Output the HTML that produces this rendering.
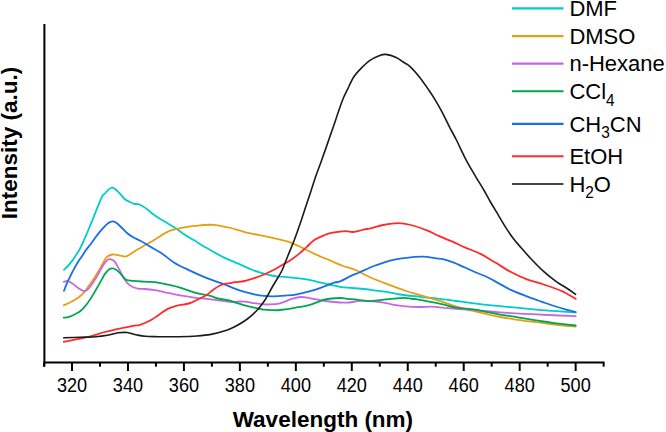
<!DOCTYPE html>
<html><head><meta charset="utf-8"><style>
html,body{margin:0;padding:0;background:#fff;}
svg{display:block;}
text{font-family:"Liberation Sans",sans-serif;}
</style></head><body>
<svg width="666" height="432" viewBox="0 0 666 432">
<rect width="666" height="432" fill="#fff"/>
<g fill="none" stroke-width="1.8" stroke-linejoin="round" stroke-linecap="round">
<path d="M64.0,269.8 C64.7,269.1 66.9,267.2 68.3,265.6 C69.7,264.0 71.3,262.0 72.5,260.4 C73.7,258.8 74.5,257.4 75.6,255.7 C76.7,254.0 78.0,252.3 79.3,250.0 C80.5,247.7 81.4,245.8 83.1,242.1 C84.8,238.4 87.5,232.1 89.2,228.0 C90.9,223.9 91.9,221.3 93.4,217.6 C94.9,213.9 96.7,209.2 98.2,205.6 C99.7,202.0 101.2,198.1 102.4,196.0 C103.6,193.9 104.3,194.2 105.4,193.0 C106.5,191.8 107.8,190.0 109.0,189.1 C110.2,188.2 111.4,187.4 112.6,187.6 C113.8,187.8 114.9,188.9 116.2,190.0 C117.5,191.1 119.0,192.7 120.4,194.2 C121.8,195.7 123.1,197.7 124.6,199.0 C126.1,200.3 127.8,201.0 129.4,201.8 C131.0,202.6 132.8,203.4 134.2,203.8 C135.6,204.2 136.5,203.8 137.9,204.2 C139.3,204.6 141.1,205.3 142.7,206.2 C144.3,207.1 145.7,208.1 147.5,209.5 C149.3,210.9 151.5,213.0 153.5,214.5 C155.5,216.0 157.1,217.0 159.5,218.5 C161.9,220.0 165.1,221.7 168.0,223.5 C170.9,225.3 174.0,227.3 177.0,229.3 C180.0,231.3 183.0,233.6 186.0,235.5 C189.0,237.4 191.6,238.8 195.0,240.8 C198.4,242.9 201.3,245.0 206.3,247.8 C211.3,250.7 219.0,255.1 224.8,257.9 C230.6,260.7 236.4,262.8 241.0,264.8 C245.6,266.8 248.5,268.4 252.6,270.0 C256.7,271.6 261.4,273.0 265.5,274.1 C269.6,275.2 273.6,276.0 276.9,276.5 C280.1,277.0 280.1,276.4 285.0,276.9 C289.9,277.4 298.9,278.0 306.3,279.3 C313.7,280.6 323.8,283.2 329.4,284.5 C335.0,285.8 336.2,286.2 340.0,286.8 C343.8,287.4 348.0,287.6 352.0,288.0 C356.0,288.4 360.0,288.6 364.0,289.0 C368.0,289.4 372.0,290.2 376.0,290.7 C380.0,291.2 384.0,291.6 388.0,292.2 C392.0,292.8 394.7,293.7 400.0,294.5 C405.3,295.3 413.7,296.1 420.0,296.8 C426.3,297.5 432.0,297.9 438.0,298.6 C444.0,299.3 450.0,300.2 456.0,301.0 C462.0,301.8 466.8,302.5 474.1,303.4 C481.4,304.3 491.7,305.4 500.0,306.2 C508.3,307.0 516.0,307.7 524.0,308.4 C532.0,309.1 539.4,309.9 548.0,310.6 C556.6,311.3 571.1,312.1 575.7,312.4" stroke="#00CCCC"/>
<path d="M63.8,305.2 C64.9,304.7 68.1,303.4 70.5,302.2 C72.9,300.9 75.8,299.3 78.1,297.7 C80.4,296.1 82.1,294.7 84.1,292.4 C86.1,290.1 88.1,287.0 90.1,284.1 C92.1,281.2 94.1,278.4 96.1,275.1 C98.1,271.8 100.5,267.5 102.2,264.5 C104.0,261.5 104.9,258.9 106.6,257.2 C108.3,255.5 110.5,254.8 112.4,254.5 C114.3,254.2 116.1,254.8 118.2,255.2 C120.3,255.5 123.4,256.6 125.1,256.6 C126.8,256.6 127.0,256.1 128.6,255.2 C130.2,254.3 132.3,252.7 134.4,251.4 C136.5,250.1 139.2,248.6 141.4,247.3 C143.6,246.0 146.1,244.6 147.5,243.8 C148.9,243.0 148.1,243.5 150.0,242.4 C151.9,241.3 156.0,238.8 159.0,237.0 C162.0,235.2 165.0,232.9 168.0,231.6 C171.0,230.2 174.0,229.7 177.0,228.9 C180.0,228.2 183.0,227.6 186.0,227.1 C189.0,226.6 192.0,226.2 195.0,225.9 C198.0,225.6 201.0,225.2 204.0,225.0 C207.0,224.8 210.0,224.6 213.0,224.8 C216.0,225.0 219.0,225.7 222.0,226.2 C225.0,226.7 228.1,227.2 231.1,228.0 C234.1,228.8 237.1,229.8 240.1,230.7 C243.1,231.5 246.1,232.4 249.1,233.1 C252.1,233.8 254.6,234.2 258.1,234.9 C261.6,235.6 265.1,236.3 270.0,237.4 C274.9,238.5 282.5,240.0 287.8,241.7 C293.1,243.4 297.1,245.4 301.7,247.5 C306.3,249.6 311.0,252.3 315.6,254.4 C320.2,256.5 324.8,258.3 329.4,260.2 C334.0,262.1 338.9,264.4 343.3,266.0 C347.7,267.6 351.2,268.1 355.6,270.0 C360.1,271.9 364.6,274.8 370.0,277.2 C375.4,279.6 382.0,282.1 388.0,284.4 C394.0,286.7 400.7,289.2 406.0,291.0 C411.3,292.8 414.7,293.6 420.0,295.2 C425.3,296.8 432.0,298.5 438.0,300.4 C444.0,302.3 450.0,304.6 456.0,306.4 C462.0,308.2 466.8,309.4 474.1,311.2 C481.4,313.0 492.7,315.6 500.0,317.0 C507.3,318.4 512.0,318.9 518.0,319.8 C524.0,320.7 530.0,321.4 536.0,322.2 C542.0,323.0 547.5,323.8 554.1,324.6 C560.7,325.3 572.1,326.3 575.7,326.7" stroke="#E3A015"/>
<path d="M63.8,281.8 C64.4,281.6 66.1,280.6 67.5,280.8 C68.9,281.1 70.2,282.1 72.0,283.3 C73.8,284.5 76.2,286.6 78.1,287.9 C80.0,289.2 81.8,290.5 83.3,290.9 C84.8,291.3 85.7,291.1 87.1,290.1 C88.5,289.1 89.8,287.3 91.6,284.8 C93.4,282.3 95.7,278.5 97.7,275.1 C99.7,271.7 102.0,267.1 103.7,264.5 C105.4,261.9 106.5,260.7 107.8,259.8 C109.0,258.9 110.0,259.0 111.2,259.3 C112.4,259.6 113.5,260.2 114.7,261.6 C115.9,263.0 116.9,264.9 118.2,267.4 C119.5,269.8 121.3,273.7 122.8,276.3 C124.3,278.9 125.7,281.4 127.4,283.2 C129.1,285.0 131.3,286.4 133.2,287.3 C135.1,288.2 137.1,288.5 139.0,288.8 C140.9,289.1 142.1,288.8 144.8,289.0 C147.5,289.2 151.2,289.6 155.0,290.2 C158.8,290.8 163.4,292.0 167.8,292.9 C172.2,293.8 177.1,294.9 181.7,295.7 C186.3,296.5 191.0,297.2 195.6,297.8 C200.2,298.4 203.7,298.5 209.4,299.2 C215.1,299.9 225.8,301.5 230.0,301.9 C234.2,302.3 232.3,301.7 234.7,301.6 C237.1,301.6 241.2,301.3 244.5,301.6 C247.8,301.9 251.0,302.7 254.2,303.2 C257.4,303.7 260.7,304.2 263.9,304.4 C267.1,304.6 270.9,304.4 273.6,304.2 C276.3,304.0 276.9,304.2 280.0,303.3 C283.1,302.4 288.5,299.9 292.0,298.8 C295.5,297.8 298.0,297.1 301.0,297.0 C304.0,296.9 306.0,297.6 310.0,298.3 C314.0,299.0 320.0,300.3 325.0,301.0 C330.0,301.7 336.0,302.2 340.0,302.5 C344.0,302.8 345.7,302.8 349.0,302.5 C352.3,302.2 356.5,301.1 360.0,300.9 C363.5,300.7 366.3,300.9 370.0,301.2 C373.7,301.4 378.0,301.8 382.0,302.4 C386.0,303.0 390.0,304.1 394.0,304.8 C398.0,305.5 401.8,305.9 406.1,306.3 C410.4,306.7 415.7,306.9 420.0,307.0 C424.3,307.1 428.0,306.6 432.0,306.7 C436.0,306.8 440.0,307.5 444.0,307.9 C448.0,308.2 451.0,308.4 456.0,308.8 C461.0,309.2 466.8,309.4 474.1,310.0 C481.4,310.6 491.7,311.8 500.0,312.4 C508.3,313.0 516.0,313.4 524.0,313.8 C532.0,314.2 539.4,314.6 548.0,315.0 C556.6,315.4 571.1,316.0 575.7,316.2" stroke="#C868E0"/>
<path d="M63.8,317.7 C64.7,317.6 67.1,317.5 69.0,316.9 C70.9,316.3 73.1,315.3 75.1,314.2 C77.1,313.1 79.1,312.2 81.1,310.5 C83.1,308.8 85.1,306.3 87.1,303.7 C89.1,301.1 91.1,297.9 93.1,294.6 C95.1,291.3 97.2,287.6 99.2,284.1 C101.2,280.6 103.5,276.1 105.2,273.6 C107.0,271.1 108.3,269.9 109.7,269.0 C111.1,268.1 112.2,268.1 113.6,268.5 C115.0,268.9 116.5,269.8 118.2,271.4 C119.9,272.9 122.7,276.4 124.0,277.8 C125.3,279.2 124.8,279.3 126.3,279.8 C127.8,280.3 130.7,280.6 133.2,280.9 C135.7,281.2 139.0,281.4 141.3,281.5 C143.6,281.6 144.8,281.7 147.1,281.8 C149.4,281.9 151.6,281.6 155.0,282.1 C158.4,282.6 163.4,283.6 167.8,284.6 C172.2,285.6 177.1,286.7 181.7,288.1 C186.3,289.5 191.0,291.6 195.6,292.9 C200.2,294.2 205.7,294.8 209.4,295.7 C213.1,296.6 214.4,297.7 217.8,298.5 C221.2,299.3 227.2,300.0 230.0,300.6 C232.8,301.2 232.3,301.6 234.7,302.4 C237.1,303.2 241.2,304.4 244.5,305.3 C247.8,306.2 251.0,306.9 254.2,307.6 C257.4,308.3 260.7,309.3 263.9,309.7 C267.1,310.1 270.9,310.1 273.6,310.2 C276.3,310.2 276.4,310.4 280.0,310.0 C283.6,309.6 290.0,308.7 295.0,307.8 C300.0,306.9 305.0,306.2 310.0,304.8 C315.0,303.4 320.0,300.6 325.0,299.5 C330.0,298.4 336.3,298.1 340.0,298.0 C343.7,297.9 344.2,298.5 347.2,298.8 C350.2,299.1 354.2,299.4 358.0,299.8 C361.8,300.2 366.0,301.2 370.0,301.2 C374.0,301.2 378.0,300.2 382.0,299.8 C386.0,299.4 390.4,298.9 394.0,298.6 C397.6,298.3 400.7,297.9 403.7,297.9 C406.7,297.9 409.3,298.5 412.0,298.8 C414.7,299.1 416.7,299.2 420.0,299.8 C423.3,300.4 428.0,301.4 432.0,302.2 C436.0,303.0 440.0,303.7 444.0,304.6 C448.0,305.5 451.0,306.8 456.0,307.6 C461.0,308.4 469.1,308.7 474.1,309.4 C479.1,310.1 481.8,310.9 486.1,311.8 C490.4,312.7 494.7,313.7 500.0,314.6 C505.3,315.5 512.0,316.4 518.0,317.4 C524.0,318.4 530.0,319.4 536.0,320.4 C542.0,321.3 547.5,322.2 554.1,323.1 C560.7,323.9 572.1,325.1 575.7,325.5" stroke="#00A650"/>
<path d="M64.0,290.8 C64.5,289.4 66.2,284.8 67.3,282.3 C68.4,279.8 69.4,278.1 70.4,276.0 C71.4,273.9 72.3,272.1 73.5,269.8 C74.7,267.6 76.3,264.8 77.7,262.5 C79.1,260.2 80.5,258.4 81.9,256.3 C83.3,254.2 84.5,252.1 86.0,250.0 C87.5,247.9 89.2,246.2 91.0,243.8 C92.8,241.4 95.0,238.0 97.0,235.4 C99.0,232.8 101.2,230.2 103.0,228.2 C104.8,226.2 106.2,224.5 107.8,223.4 C109.4,222.3 111.2,221.5 112.6,221.4 C114.0,221.3 114.8,221.9 116.2,222.8 C117.6,223.7 119.2,225.3 121.0,227.0 C122.8,228.7 125.0,231.3 127.0,233.0 C129.0,234.7 130.8,235.9 133.0,237.2 C135.2,238.5 137.9,239.5 140.3,240.8 C142.7,242.1 145.1,243.6 147.5,245.0 C149.9,246.4 152.3,247.8 154.7,249.2 C157.1,250.6 158.7,251.2 161.9,253.4 C165.1,255.6 169.6,259.8 173.9,262.5 C178.2,265.2 182.4,267.1 187.8,269.6 C193.2,272.2 200.1,275.3 206.3,277.8 C212.5,280.3 220.3,282.8 225.0,284.6 C229.7,286.4 231.4,287.4 234.7,288.6 C237.9,289.8 241.2,290.9 244.5,291.9 C247.8,292.8 251.0,293.6 254.2,294.3 C257.4,295.0 260.7,295.6 263.9,295.9 C267.1,296.2 270.1,296.4 273.6,296.3 C277.1,296.2 281.1,295.9 285.0,295.6 C288.9,295.3 291.9,295.3 297.0,294.3 C302.1,293.3 309.4,291.6 315.6,289.7 C321.8,287.8 330.0,284.1 334.1,282.7 C338.2,281.3 337.0,282.6 340.0,281.4 C343.0,280.2 348.7,276.9 352.0,275.4 C355.3,273.9 356.4,273.8 360.0,272.2 C363.6,270.6 368.9,267.9 373.9,266.0 C378.9,264.1 384.7,262.0 390.1,260.6 C395.5,259.2 400.9,258.5 406.3,257.9 C411.7,257.2 417.5,256.6 422.5,256.7 C427.5,256.8 433.2,257.9 436.4,258.3 C439.6,258.7 439.4,258.4 441.7,258.9 C444.0,259.4 447.6,260.4 450.3,261.3 C453.0,262.2 453.9,262.6 457.9,264.3 C461.9,266.0 469.1,269.5 474.1,271.7 C479.1,273.9 483.7,275.4 488.0,277.5 C492.3,279.6 496.0,281.9 500.0,284.1 C504.0,286.2 507.0,288.1 512.0,290.4 C517.0,292.6 525.0,295.7 530.0,297.6 C535.0,299.5 538.0,300.4 542.0,301.8 C546.0,303.2 550.1,304.7 554.1,306.0 C558.1,307.3 562.5,308.6 566.1,309.6 C569.7,310.6 574.1,311.6 575.7,312.0" stroke="#1A6FE6"/>
<path d="M63.7,341.8 C65.8,341.4 72.0,340.1 76.0,339.3 C80.0,338.5 83.5,338.1 88.0,337.0 C92.5,335.9 98.0,333.9 103.0,332.5 C108.0,331.1 113.1,329.9 118.1,328.8 C123.1,327.7 129.4,326.5 133.1,325.8 C136.8,325.1 137.0,325.9 140.0,324.9 C143.0,323.9 147.9,321.8 151.1,320.0 C154.3,318.2 156.6,316.2 159.4,314.4 C162.2,312.5 165.0,310.3 167.8,308.9 C170.6,307.5 173.3,306.6 176.1,305.8 C178.9,305.1 181.8,304.9 184.4,304.4 C187.0,303.9 188.9,303.6 191.4,302.6 C193.9,301.6 197.1,299.8 199.7,298.5 C202.2,297.2 204.4,296.5 206.7,295.0 C209.0,293.5 211.3,291.0 213.6,289.4 C215.9,287.8 218.5,286.3 220.6,285.3 C222.7,284.3 224.5,283.9 226.1,283.5 C227.7,283.1 228.6,283.4 230.0,283.2 C231.4,283.0 232.3,282.6 234.7,282.2 C237.1,281.8 241.2,281.7 244.5,281.0 C247.8,280.3 251.0,279.2 254.2,278.1 C257.4,277.0 260.7,275.9 263.9,274.5 C267.1,273.1 270.2,271.8 273.5,270.0 C276.8,268.2 281.0,265.6 283.9,264.0 C286.8,262.4 288.2,261.9 290.8,260.1 C293.4,258.3 296.9,255.6 299.6,253.4 C302.3,251.2 304.4,249.0 306.8,246.8 C309.2,244.6 311.6,241.9 314.0,240.2 C316.4,238.5 318.8,237.7 321.2,236.6 C323.6,235.5 325.6,234.4 328.4,233.6 C331.2,232.8 335.0,232.2 338.0,231.8 C341.0,231.4 344.1,231.2 346.5,231.2 C348.9,231.2 350.3,232.1 352.5,232.0 C354.7,231.9 357.7,231.0 359.7,230.6 C361.7,230.2 362.5,229.8 364.5,229.4 C366.5,229.0 368.5,228.9 371.6,228.2 C374.7,227.5 378.7,225.8 383.1,225.0 C387.5,224.2 393.6,223.1 398.2,223.1 C402.8,223.1 406.1,223.8 410.9,225.0 C415.7,226.2 422.4,228.5 427.0,230.3 C431.6,232.1 434.4,234.0 438.7,235.9 C443.0,237.8 448.2,239.8 452.6,241.7 C457.0,243.6 460.2,245.4 464.8,247.4 C469.4,249.4 474.9,251.1 480.0,253.6 C485.1,256.1 490.2,259.5 495.3,262.5 C500.4,265.5 505.4,269.1 510.5,271.8 C515.6,274.5 520.3,276.8 525.8,278.9 C531.3,281.0 537.7,282.5 543.6,284.5 C549.5,286.5 556.0,288.5 561.4,290.9 C566.8,293.3 573.3,297.6 575.7,298.9" stroke="#FF2A2A"/>
<path d="M63.7,337.8 C66.5,337.7 75.2,337.5 80.5,337.3 C85.8,337.1 91.0,337.1 95.5,336.7 C100.0,336.3 103.7,335.8 107.5,335.2 C111.3,334.6 114.8,333.2 118.1,332.8 C121.4,332.4 124.1,332.2 127.1,332.5 C130.1,332.8 133.1,334.2 136.1,334.8 C139.1,335.4 141.4,336.0 145.1,336.3 C148.8,336.6 152.4,336.6 158.0,336.7 C163.6,336.8 172.0,336.8 178.5,336.7 C185.0,336.6 191.6,336.4 197.0,336.0 C202.4,335.6 206.2,335.3 210.9,334.4 C215.6,333.5 221.0,332.1 225.0,330.8 C229.0,329.5 231.4,328.3 234.7,326.7 C237.9,325.1 241.5,323.0 244.5,321.0 C247.5,319.0 250.2,316.8 252.6,314.6 C255.0,312.5 256.9,310.7 259.0,308.1 C261.1,305.5 263.3,302.6 265.5,299.2 C267.7,295.8 270.0,291.0 272.0,287.5 C274.0,284.0 276.0,280.9 277.7,278.0 C279.4,275.1 280.4,273.8 282.2,270.0 C283.9,266.2 286.2,260.0 288.2,255.0 C290.2,250.0 292.1,245.8 294.3,240.0 C296.5,234.2 299.4,225.8 301.4,220.0 C303.4,214.2 304.6,210.0 306.3,205.0 C308.0,200.0 309.7,195.0 311.3,190.0 C312.9,185.0 314.6,179.7 316.2,175.0 C317.8,170.3 318.4,169.2 321.1,161.7 C323.8,154.2 328.7,140.1 332.2,130.0 C335.7,119.9 339.5,108.2 342.1,101.3 C344.7,94.4 346.0,92.6 347.9,88.6 C349.8,84.5 351.6,80.3 353.7,77.0 C355.8,73.7 357.9,71.7 360.6,68.9 C363.3,66.1 366.8,62.6 369.9,60.4 C373.0,58.2 376.5,56.7 379.1,55.7 C381.8,54.7 383.0,54.1 385.8,54.4 C388.6,54.7 393.3,56.1 396.2,57.4 C399.1,58.7 400.8,60.5 403.1,62.0 C405.4,63.5 407.4,64.1 410.1,66.6 C412.8,69.1 416.3,73.1 419.4,77.0 C422.5,80.9 425.9,85.9 428.6,89.8 C431.3,93.7 433.3,96.8 435.6,100.6 C437.9,104.4 440.2,108.5 442.5,112.9 C444.8,117.3 447.1,122.3 449.4,126.8 C451.7,131.3 453.6,134.4 456.4,140.0 C459.2,145.6 463.0,154.0 466.2,160.1 C469.4,166.2 472.6,171.3 475.5,176.3 C478.4,181.3 481.4,185.8 483.8,190.0 C486.2,194.2 487.9,197.5 490.2,201.5 C492.5,205.5 495.3,210.0 497.8,214.2 C500.3,218.4 502.8,222.9 505.4,226.9 C507.9,230.9 510.6,234.9 513.1,238.3 C515.7,241.7 517.7,243.9 520.7,247.3 C523.7,250.7 527.1,254.7 530.9,258.7 C534.7,262.7 539.4,267.6 543.6,271.4 C547.8,275.2 552.5,278.8 556.3,281.6 C560.1,284.4 563.3,285.9 566.5,288.0 C569.7,290.1 574.1,293.2 575.6,294.3" stroke="#1a1a1a" stroke-width="1.6"/>
</g>
<g stroke="#000" stroke-width="2" fill="none">
<line x1="44.4" y1="24" x2="44.4" y2="366.5"/>
<line x1="43.4" y1="362.6" x2="604.5" y2="362.6"/>
<line x1="44.02" y1="362.6" x2="44.02" y2="366.7"/>
<line x1="72.00" y1="362.6" x2="72.00" y2="371.0"/>
<line x1="99.98" y1="362.6" x2="99.98" y2="366.7"/>
<line x1="127.96" y1="362.6" x2="127.96" y2="371.0"/>
<line x1="155.94" y1="362.6" x2="155.94" y2="366.7"/>
<line x1="183.92" y1="362.6" x2="183.92" y2="371.0"/>
<line x1="211.90" y1="362.6" x2="211.90" y2="366.7"/>
<line x1="239.88" y1="362.6" x2="239.88" y2="371.0"/>
<line x1="267.86" y1="362.6" x2="267.86" y2="366.7"/>
<line x1="295.84" y1="362.6" x2="295.84" y2="371.0"/>
<line x1="323.82" y1="362.6" x2="323.82" y2="366.7"/>
<line x1="351.80" y1="362.6" x2="351.80" y2="371.0"/>
<line x1="379.78" y1="362.6" x2="379.78" y2="366.7"/>
<line x1="407.76" y1="362.6" x2="407.76" y2="371.0"/>
<line x1="435.74" y1="362.6" x2="435.74" y2="366.7"/>
<line x1="463.72" y1="362.6" x2="463.72" y2="371.0"/>
<line x1="491.70" y1="362.6" x2="491.70" y2="366.7"/>
<line x1="519.68" y1="362.6" x2="519.68" y2="371.0"/>
<line x1="547.66" y1="362.6" x2="547.66" y2="366.7"/>
<line x1="575.64" y1="362.6" x2="575.64" y2="371.0"/>
<line x1="603.62" y1="362.6" x2="603.62" y2="366.7"/>
</g>
<g font-size="19.5" text-anchor="middle" fill="#000">
<text transform="translate(72.00,391.5) scale(0.93,1)">320</text>
<text transform="translate(127.96,391.5) scale(0.93,1)">340</text>
<text transform="translate(183.92,391.5) scale(0.93,1)">360</text>
<text transform="translate(239.88,391.5) scale(0.93,1)">380</text>
<text transform="translate(295.84,391.5) scale(0.93,1)">400</text>
<text transform="translate(351.80,391.5) scale(0.93,1)">420</text>
<text transform="translate(407.76,391.5) scale(0.93,1)">440</text>
<text transform="translate(463.72,391.5) scale(0.93,1)">460</text>
<text transform="translate(519.68,391.5) scale(0.93,1)">480</text>
<text transform="translate(575.64,391.5) scale(0.93,1)">500</text>
</g>
<text transform="translate(322.9,426.8) scale(1,1)" font-size="22.5" font-weight="bold" text-anchor="middle">Wavelength (nm)</text>
<text transform="translate(16.6,143.1) rotate(-90) scale(1,1)" font-size="22.5" font-weight="bold" text-anchor="middle">Intensity (a.u.)</text>
<g stroke-width="2.2" fill="none">
<line x1="512" y1="8.30" x2="563.5" y2="8.30" stroke="#00CCCC"/>
<line x1="512" y1="36.10" x2="563.5" y2="36.10" stroke="#E3A015"/>
<line x1="512" y1="63.60" x2="563.5" y2="63.60" stroke="#C868E0"/>
<line x1="512" y1="91.25" x2="563.5" y2="91.25" stroke="#00A650"/>
<line x1="512" y1="123.90" x2="563.5" y2="123.90" stroke="#1A6FE6"/>
<line x1="512" y1="156.25" x2="563.5" y2="156.25" stroke="#FF2A2A"/>
<line x1="512" y1="184.00" x2="563.5" y2="184.00" stroke="#454545"/>
</g>
<g font-size="22.8" fill="#000">
<text transform="translate(569.4,16.00) scale(0.965,1)">DMF</text>
<text transform="translate(569.4,43.80) scale(0.965,1)">DMSO</text>
<text transform="translate(569.4,71.30) scale(0.965,1)">n-Hexane</text>
<text transform="translate(569.4,98.95) scale(0.965,1)">CCl<tspan font-size="16" dy="6.6">4</tspan></text>
<text transform="translate(569.4,131.60) scale(0.965,1)">CH<tspan font-size="16" dy="6.6">3</tspan><tspan dy="-6.6">CN</tspan></text>
<text transform="translate(569.4,163.95) scale(0.965,1)">EtOH</text>
<text transform="translate(569.4,191.70) scale(0.965,1)">H<tspan font-size="16" dy="6.6">2</tspan><tspan dy="-6.6">O</tspan></text>
</g>
</svg>
</body></html>
